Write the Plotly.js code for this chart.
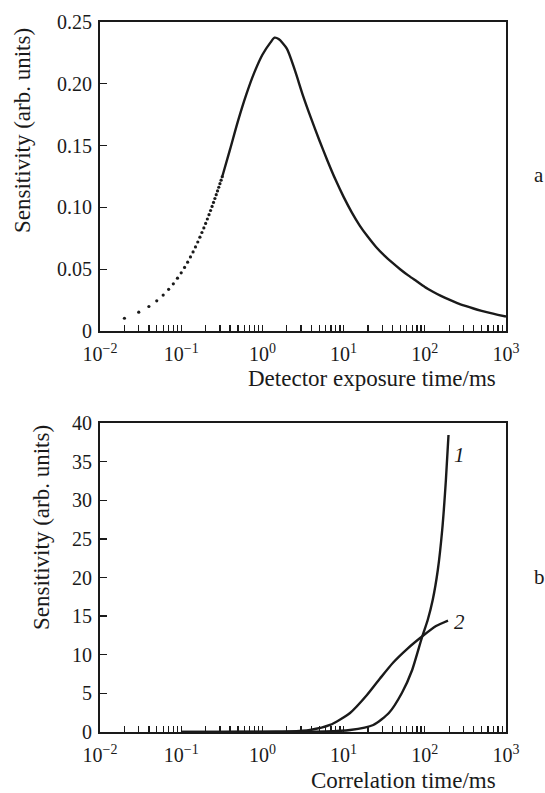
<!DOCTYPE html>
<html>
<head>
<meta charset="utf-8">
<script src="https://cdn.plot.ly/plotly-3.0.1.min.js"></script>
<style>
  html, body { margin: 0; padding: 0; background: #fff; }
  #chart { width: 545px; height: 793px; }
</style>
</head>
<body>
<div id="chart"></div>
<script>
// ---- Panel a: sensitivity vs detector exposure time ----
const dotExposure = [0.02, 0.03, 0.04, 0.05, 0.06, 0.07, 0.08, 0.09, 0.10, 0.11,
                     0.12, 0.13, 0.14, 0.15, 0.16, 0.17, 0.18, 0.19, 0.20, 0.21,
                     0.22, 0.23, 0.24, 0.25, 0.26, 0.27, 0.28, 0.29, 0.30, 0.31, 0.32];
const dotSensitivity = [0.0103, 0.0152, 0.0198, 0.0244, 0.0291, 0.0337, 0.0382, 0.0427, 0.0471, 0.0514,
                        0.0557, 0.0599, 0.0640, 0.0680, 0.0720, 0.0759, 0.0797, 0.0834, 0.0870, 0.0906,
                        0.0941, 0.0975, 0.1008, 0.1040, 0.1072, 0.1103, 0.1133, 0.1163, 0.1192, 0.1220, 0.1248];
const solidExposure = [0.32, 0.398, 0.501, 0.631, 0.794, 1.0, 1.26, 1.41, 1.585, 2.0, 2.51, 3.16, 3.98,
                       5.01, 6.31, 7.94, 10, 12.6, 15.8, 20, 25.1, 31.6, 39.8, 50.1, 63.1, 79.4, 100,
                       126, 158, 200, 251, 316, 398, 501, 631, 794, 1000];
const solidSensitivity = [0.1248, 0.1465, 0.1700, 0.1910, 0.2090, 0.2235, 0.2335, 0.2373, 0.2362, 0.2285,
                          0.2110, 0.1905, 0.1720, 0.1545, 0.1380, 0.1225, 0.1085, 0.0960, 0.0853, 0.0760,
                          0.0680, 0.0612, 0.0553, 0.0498, 0.0448, 0.0402, 0.0356, 0.0318, 0.0284, 0.0253,
                          0.0226, 0.0203, 0.0182, 0.0163, 0.0146, 0.0131, 0.0117];

// ---- Panel b: sensitivity vs correlation time ----
const corrTime1 = [0.1, 0.3, 1, 2.19, 5.9, 12.0, 23.2, 36.1, 52.2, 69.9, 92.6, 108.6, 125.1, 144.6, 163.8, 181.9, 195.8];
const sens1 = [0.01, 0.01, 0.02, 0.03, 0.065, 0.26, 0.91, 2.46, 5.05, 8.03, 12.3, 14.5, 17.09, 20.97, 26.15, 32.62, 38.45];
const corrTime2 = [0.1, 0.3, 1, 2.19, 3.86, 6.8, 12.0, 19.4, 28.1, 40.6, 60.4, 92.4, 137.4, 193.1];
const sens2 = [0.02, 0.02, 0.03, 0.06, 0.26, 0.91, 2.46, 4.79, 6.93, 8.97, 10.74, 12.36, 13.72, 14.43];

// ---- Tick labels ----
const decades = [0.01, 0.1, 1, 10, 100, 1000];
const decadeLabels = ['10<sup>−2</sup>', '10<sup>−1</sup>', '10<sup>0</sup>', '10<sup>1</sup>', '10<sup>2</sup>', '10<sup>3</sup>'];
const yTicksA = [0, 0.05, 0.10, 0.15, 0.20, 0.25];
const yLabelsA = ['0', '0.05', '0.10', '0.15', '0.20', '0.25'];
const yTicksB = [0, 5, 10, 15, 20, 25, 30, 35, 40];
const yLabelsB = ['0', '5', '10', '15', '20', '25', '30', '35', '40'];

// minor log ticks (2..9 in each decade)
const minorVals = [];
decades.slice(0, -1).forEach(d => { for (let m = 2; m <= 9; m++) minorVals.push(d * m); });

const FONT = 'Liberation Serif';
const INK = '#1a1a1a';

const traces = [
  { x: dotExposure, y: dotSensitivity, xaxis: 'x', yaxis: 'y', mode: 'markers',
    marker: { color: INK, size: 3.2 }, hoverinfo: 'skip' },
  { x: solidExposure, y: solidSensitivity, xaxis: 'x', yaxis: 'y', mode: 'lines',
    line: { color: INK, width: 2.4, shape: 'spline', smoothing: 0.7 } },
  { x: corrTime1, y: sens1, xaxis: 'x2', yaxis: 'y2', mode: 'lines',
    line: { color: INK, width: 2.4, shape: 'spline', smoothing: 0.6 } },
  { x: corrTime2, y: sens2, xaxis: 'x2', yaxis: 'y2', mode: 'lines',
    line: { color: INK, width: 2.4, shape: 'spline', smoothing: 0.6 } }
];

const xCommon = {
  type: 'log', range: [-2, 3], tickmode: 'array', tickvals: decades, ticktext: decadeLabels,
  ticks: 'inside', ticklen: 6, tickwidth: 1.3, tickcolor: INK,
  minor: { tickmode: 'array', tickvals: minorVals, ticks: 'inside', ticklen: 6, tickwidth: 1.3, tickcolor: INK, showgrid: false },
  showline: true, linecolor: INK, linewidth: 2, mirror: true,
  showgrid: false, zeroline: false, ticklabelstandoff: 4,
  tickfont: { family: FONT, size: 20, color: INK }
};
const yCommon = {
  ticks: 'inside', ticklen: 7, tickwidth: 1.3, tickcolor: INK, tickmode: 'array',
  showline: true, linecolor: INK, linewidth: 2, mirror: true,
  showgrid: false, zeroline: false, ticklabelstandoff: 2,
  tickfont: { family: FONT, size: 20, color: INK }
};

const layout = {
  width: 545, height: 793,
  margin: { l: 100, r: 39, t: 22, b: 61 },
  paper_bgcolor: '#fff', plot_bgcolor: '#fff',
  showlegend: false,
  font: { family: FONT, color: INK },
  xaxis: Object.assign({}, xCommon, { anchor: 'y', domain: [0, 1] }),
  yaxis: Object.assign({}, yCommon, { anchor: 'x', domain: [0.5648, 1], range: [0, 0.25],
                                      tickvals: yTicksA, ticktext: yLabelsA }),
  xaxis2: Object.assign({}, xCommon, { anchor: 'y2', domain: [0, 1] }),
  yaxis2: Object.assign({}, yCommon, { anchor: 'x2', domain: [0, 0.4352], range: [0, 40],
                                       tickvals: yTicksB, ticktext: yLabelsB }),
  annotations: [
    { text: 'Sensitivity (arb. units)', xref: 'paper', yref: 'paper', x: -0.1897, y: 0.8479,
      textangle: -90, showarrow: false, xanchor: 'center', yanchor: 'middle',
      font: { family: FONT, size: 23, color: INK } },
    { text: 'Sensitivity (arb. units)', xref: 'paper', yref: 'paper', x: -0.1453, y: 0.2873,
      textangle: -90, showarrow: false, xanchor: 'center', yanchor: 'middle',
      font: { family: FONT, size: 23, color: INK } },
    { text: 'Detector exposure time/ms', xref: 'paper', yref: 'paper', x: 0.9803, y: 0.4972,
      showarrow: false, xanchor: 'right', yanchor: 'middle',
      font: { family: FONT, size: 23, color: INK } },
    { text: 'Correlation time/ms', xref: 'paper', yref: 'paper', x: 0.9803, y: -0.069,
      showarrow: false, xanchor: 'right', yanchor: 'middle',
      font: { family: FONT, size: 23, color: INK } },
    { text: 'a', xref: 'paper', yref: 'paper', x: 1.0813, y: 0.7845,
      showarrow: false, xanchor: 'center', yanchor: 'middle',
      font: { family: FONT, size: 21, color: INK } },
    { text: 'b', xref: 'paper', yref: 'paper', x: 1.0813, y: 0.2183,
      showarrow: false, xanchor: 'center', yanchor: 'middle',
      font: { family: FONT, size: 21, color: INK } },
    { text: '<i>1</i>', xref: 'x2', yref: 'y2', x: Math.log10(265), y: 35.9,
      showarrow: false, xanchor: 'center', yanchor: 'middle',
      font: { family: FONT, size: 21, color: INK } },
    { text: '<i>2</i>', xref: 'x2', yref: 'y2', x: Math.log10(265), y: 14.2,
      showarrow: false, xanchor: 'center', yanchor: 'middle',
      font: { family: FONT, size: 21, color: INK } }
  ]
};

Plotly.newPlot('chart', traces, layout, { displayModeBar: false, staticPlot: true });
</script>
</body>
</html>
